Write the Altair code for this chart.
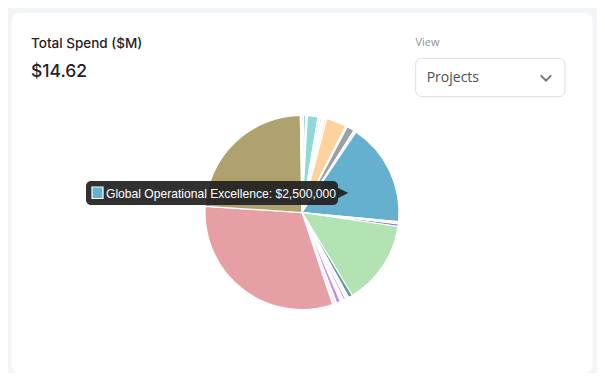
import altair as alt
import pandas as pd

# ---- data (clockwise from 12 o'clock) ----
projects = [
    "Project 01", "Project 02", "Project 03", "Project 04", "Project 05",
    "Project 06", "Project 07", "Project 08", "Project 09", "Project 10",
    "Project 11", "Project 12", "Global Operational Excellence", "Project 14",
    "Project 15", "Project 16", "Project 17", "Project 18", "Project 19",
    "Project 20", "Project 21", "Project 22", "Project 23", "Project 24",
    "Project 25",
]
spend = [
    40000, 50000, 40000, 260000, 50000,
    50000, 55000, 55000, 490000, 40000,
    185000, 60000, 2500000, 55000,
    60000, 2050000, 100000, 80000, 60000,
    80000, 100000, 100000, 4550000, 3465000,
    40000,
]
colors = [
    "#f9dfe5", "#7fc4ef", "#f1eef9", "#90d9da", "#f8d6dd",
    "#cdeff5", "#f7f7f7", "#fbe5cf", "#fdd29c", "#f2f2f2",
    "#9c9fa6", "#eaf0f5", "#65b0cf", "#f4f3fa",
    "#8f7fc4", "#b3e2b3", "#5f9b99", "#f6f6f6", "#c9a6ef",
    "#faf6ff", "#b894e6", "#fcf1f2", "#e59fa5", "#afa26f",
    "#fae3e8",
]

title_text = "Total Spend ($M)"
total_text = "$14.62"
view_label = "View"
view_value = "Projects"
tooltip_text = "Global Operational Excellence: $2,500,000"

pie_df = pd.DataFrame({"project": projects, "spend": spend, "idx": list(range(len(projects)))})
one = pd.DataFrame({"k": [0]})

W, H = 589, 365

card = alt.Chart(one).mark_rect(fill="white", cornerRadius=8).encode(
    x=alt.value(3.5), x2=alt.value(584.5), y=alt.value(5), y2=alt.value(365)
)

title = alt.Chart(one).mark_text(
    align="left", baseline="alphabetic", font="Inter", fontSize=13.5, fontWeight=500, color="#1f2328"
).encode(x=alt.value(23), y=alt.value(39.7), text=alt.value(title_text))

total = alt.Chart(one).mark_text(
    align="left", baseline="alphabetic", font="Inter", fontSize=17.5, fontWeight=500, color="#1f2328"
).encode(x=alt.value(23), y=alt.value(68.7), text=alt.value(total_text))

view_lbl = alt.Chart(one).mark_text(
    align="left", baseline="alphabetic", font="Open Sans", fontSize=11, color="#8a9096"
).encode(x=alt.value(407.5), y=alt.value(37.7), text=alt.value(view_label))

dropdown = alt.Chart(one).mark_rect(
    fill="white", stroke="#dadde2", strokeWidth=1, cornerRadius=6
).encode(x=alt.value(407.7), x2=alt.value(557), y=alt.value(50.3), y2=alt.value(88.7))

view_val = alt.Chart(one).mark_text(
    align="left", baseline="alphabetic", font="Open Sans", fontSize=14, color="#4a4f55"
).encode(x=alt.value(418.7), y=alt.value(74), text=alt.value(view_value))

chevron = alt.Chart(one).mark_point(
    shape="M-1,-0.5L0,0.5L1,-0.5", filled=False, stroke="#6b7075", strokeWidth=1.8, size=110, opacity=1
).encode(x=alt.value(538), y=alt.value(70))

pie = alt.Chart(pie_df).mark_arc(outerRadius=97, stroke="white", strokeWidth=1.2).encode(
    theta=alt.Theta("spend:Q", stack=True),
    color=alt.Color("project:N", scale=alt.Scale(domain=projects, range=colors), legend=None),
    order=alt.Order("idx:Q", sort="ascending"),
    x=alt.value(294),
    y=alt.value(204.5),
)

tip_box = alt.Chart(one).mark_rect(fill="#1f1f1f", opacity=0.92, cornerRadius=5).encode(
    x=alt.value(78), x2=alt.value(330), y=alt.value(173), y2=alt.value(197)
)
tip_arrow = alt.Chart(one).mark_point(
    shape="M-1,-1L1,0L-1,1Z", filled=True, fill="#1f1f1f", opacity=0.92, size=110, strokeWidth=0
).encode(x=alt.value(335), y=alt.value(185))
tip_swatch = alt.Chart(one).mark_rect(fill="#65b0cf", stroke="white", strokeWidth=1.2).encode(
    x=alt.value(84), x2=alt.value(95), y=alt.value(179), y2=alt.value(190.5)
)
tip_text = alt.Chart(one).mark_text(
    align="left", baseline="alphabetic",
    font="Liberation Sans, Arial",
    fontSize=12.1, color="white"
).encode(x=alt.value(98), y=alt.value(189.8), text=alt.value(tooltip_text))

chart = alt.layer(
    card, title, total, view_lbl, dropdown, view_val, chevron, pie,
    tip_box, tip_arrow, tip_swatch, tip_text
).properties(
    width=W, height=H,
    autosize=alt.AutoSizeParams(type="fit", contains="padding"),
    padding=0,
    background="#f2f5f8",
).configure_view(stroke=None)

chart.save("out.html", embed_options={"renderer": "svg", "actions": False})
